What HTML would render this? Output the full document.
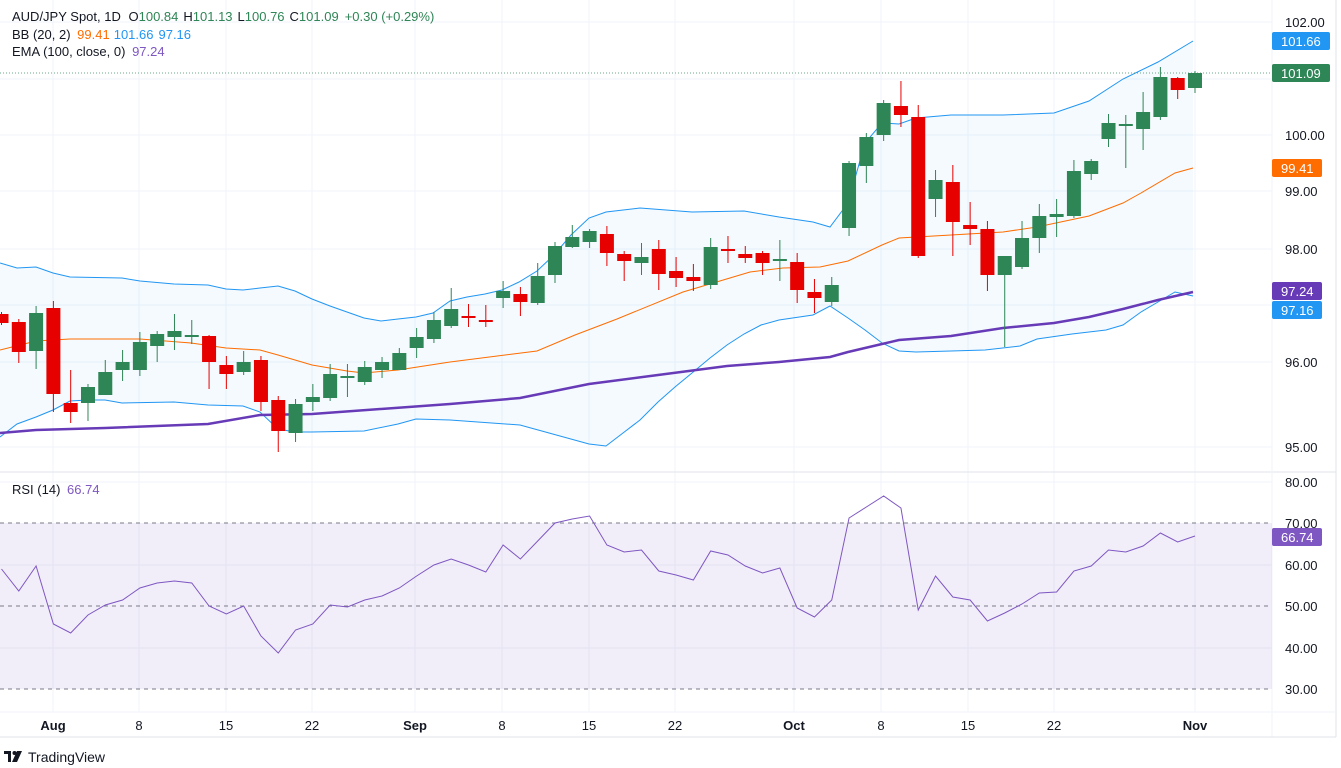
<!DOCTYPE html>
<html><head><meta charset="utf-8"><style>
html,body{margin:0;padding:0;background:#fff;width:1341px;height:768px;overflow:hidden;font-family:"Liberation Sans",sans-serif}
svg text{font-family:"Liberation Sans",sans-serif}
</style></head><body>
<svg id="s" width="1341" height="768" xmlns="http://www.w3.org/2000/svg"></svg>
<script>
const S=document.getElementById('s');let h='';
const X=k=>1.5+k*17.297;
const PR=1272;
// grid
const vx=[53,139,226,312,415,502,589,675,794,881,968,1054,1195];
vx.forEach(x=>{h+=`<line x1="${x}" y1="0" x2="${x}" y2="712" stroke="#f0f3fa" stroke-width="1"/>`});
[22,79,135,191,249,305,362,447].forEach(y=>{h+=`<line x1="0" y1="${y}" x2="${PR}" y2="${y}" stroke="#f0f3fa"/>`});
[482,565,648].forEach(y=>{h+=`<line x1="0" y1="${y}" x2="${PR}" y2="${y}" stroke="#f0f3fa"/>`});
// BB
const up=[[0,263],[17,268],[36,267],[53,273],[70,277],[122,278],[140,281],[174,284],[208,285],[226,289],[243,290],[260,288],[278,286],[295,291],[312,299],[330,306],[347,312],[364,318],[381,321],[398,319],[416,317],[433,313],[450,301],[467,297],[485,294],[502,290],[519,282],[537,271],[554,255],[571,235],[589,218],[606,212],[640,208],[692,212],[744,211],[779,217],[813,222],[830,227],[848,203],[865,143],[882,123],[899,124],[916,118],[951,115],[1003,115],[1054,113],[1089,101],[1123,79],[1158,62],[1193,41]];
const lo=[[0,437],[17,424],[36,417],[53,410],[70,401],[88,400],[105,400],[122,403],[174,402],[208,405],[243,406],[260,412],[278,429],[295,432],[312,432],[364,431],[398,424],[416,419],[450,420],[520,425],[589,444],[606,446],[623,433],[640,420],[658,402],[675,387],[692,373],[710,358],[727,345],[744,334],[761,325],[779,320],[813,315],[830,306],[848,318],[865,330],[882,343],[899,351],[916,352],[951,351],[985,350],[1020,346],[1037,339],[1072,334],[1106,330],[1123,325],[1141,312],[1175,292],[1193,296]];
const mid=[[0,350],[36,341],[70,339],[140,339],[191,343],[226,348],[260,350],[278,355],[312,365],[347,371],[364,373],[398,370],[450,362],[537,351],[575,335],[617,319],[683,292],[750,272],[783,268],[820,267],[848,261],[882,245],[899,238],[951,235],[1003,232],[1037,227],[1089,216],[1123,203],[1141,193],[1175,173],[1193,168]];
const ema=[[0,433],[36,430],[105,428],[208,424],[260,415],[312,414],[450,404],[520,398],[589,384],[658,375],[727,366],[779,362],[830,357],[848,352],[882,344],[899,340],[951,336],[1003,328],[1054,323],[1089,317],[1123,309],[1158,300],[1193,292]];
const pts=a=>a.map(p=>p.join(',')).join(' ');
h+=`<polygon points="${pts(up)} ${pts(lo.slice().reverse())}" fill="#2196f3" fill-opacity="0.05"/>`;
h+=`<polyline points="${pts(up)}" fill="none" stroke="#2196f3" stroke-width="1"/>`;
h+=`<polyline points="${pts(lo)}" fill="none" stroke="#2196f3" stroke-width="1"/>`;
h+=`<polyline points="${pts(mid)}" fill="none" stroke="#ff6d00" stroke-width="1"/>`;
h+=`<polyline points="${pts(ema)}" fill="none" stroke="#673ab7" stroke-width="2.5"/>`;
// candles [o,c,hi,lo] in y px
const C=[[314,323,312,325],[322,352,319,363],[351,313,306,369],[308,394,301,412],[403,412,370,423],[403,387,384,421],[395,372,360,395],[370,362,350,381],[370,342,332,376],[346,334,331,362],[337,331,314,350],[337,335,320,344],[336,362,335,389],[365,374,356,389],[372,362,351,375],[360,402,356,411],[400,431,396,452],[433,404,399,442],[402,397,384,411],[398,374,364,401],[377,376,364,397],[382,367,361,385],[370,362,357,378],[370,353,348,370],[348,337,328,358],[339,320,312,343],[326,309,288,328],[316,318,304,327],[320,322,305,327],[298,291,281,308],[294,302,287,316],[303,276,263,305],[275,246,242,283],[247,237,225,248],[242,231,229,248],[234,253,226,266],[254,261,251,281],[263,257,243,275],[249,274,240,290],[271,278,257,287],[277,281,264,291],[285,247,238,289],[249,251,236,263],[254,258,246,263],[253,263,251,275],[261,259,240,281],[262,290,253,303],[292,298,279,313],[302,285,277,306],[228,163,161,236],[166,137,133,183],[135,103,100,141],[106,115,81,127],[117,256,105,258],[199,180,170,217],[182,222,165,256],[225,229,202,245],[229,275,221,291],[275,256,256,347],[267,238,221,269],[238,216,204,253],[217,214,199,237],[216,171,160,218],[174,161,159,180],[139,123,114,147],[126,124,115,168],[129,112,92,150],[117,77,67,120],[78,90,77,99],[88,73,71,93]];
C.forEach((c,k)=>{const x=X(k);const g=c[1]<=c[0];const col=g?'#2e8555':'#e60000';
const t=Math.min(c[0],c[1]),b=Math.max(c[0],c[1]);
h+=`<line x1="${x}" y1="${c[2]}" x2="${x}" y2="${c[3]}" stroke="${col}" stroke-width="1"/>`;
h+=`<rect x="${x-7}" y="${t}" width="14" height="${Math.max(b-t,2)}" fill="${col}"/>`;});
// last price dotted
h+=`<line x1="0" y1="73" x2="${PR}" y2="73" stroke="#2e8555" stroke-dasharray="1,2" stroke-width="1" opacity="0.7"/>`;
// separators
h+=`<line x1="0" y1="472" x2="1336" y2="472" stroke="#e0e3eb"/>`;
h+=`<line x1="${PR}" y1="0" x2="${PR}" y2="737" stroke="#f0f3fa"/>`;
h+=`<line x1="1336" y1="0" x2="1336" y2="737" stroke="#e0e3eb"/>`;
h+=`<line x1="0" y1="737" x2="1336" y2="737" stroke="#e0e3eb"/>`;
h+=`<line x1="0" y1="712" x2="1336" y2="712" stroke="#f0f3fa"/>`;
// RSI
h+=`<rect x="0" y="523" width="${PR}" height="166" fill="#7e57c2" fill-opacity="0.1"/>`;
[523,606,689].forEach(y=>{h+=`<line x1="0" y1="${y}" x2="${PR}" y2="${y}" stroke="#787b86" stroke-dasharray="4,4" stroke-width="1"/>`});
const R=[569,591,566,624,633,615,605,600,588,583,581,583,606,614,606,636,653,630,624,605,607,600,596,588,576,565,559,565,572,545,559,541,523,519,516,545,552,550,571,575,580,551,555,566,573,568,608,617,600,518,507,496,508,610,576,597,600,621,613,604,593,592,571,566,550,552,546,533,542,536];
h+=`<polyline points="${R.map((y,k)=>X(k)+','+y).join(' ')}" fill="none" stroke="#7e57c2" stroke-width="1"/>`;
// axis labels
const ax=(y,t)=>{h+=`<text x="1285" y="${y+5}" font-size="13" fill="#131722">${t}</text>`};
ax(22,'102.00');ax(135,'100.00');ax(191,'99.00');ax(249,'98.00');ax(362,'96.00');ax(447,'95.00');
ax(482,'80.00');ax(523,'70.00');ax(565,'60.00');ax(606,'50.00');ax(648,'40.00');ax(689,'30.00');
const tag=(y,t,c,w)=>{h+=`<rect x="1272" y="${y-9}" width="${w}" height="18" rx="2" fill="${c}"/><text x="1281" y="${y+5}" font-size="13" fill="#fff">${t}</text>`};
tag(41,'101.66','#2196f3',58);tag(73,'101.09','#2e8555',58);tag(168,'99.41','#ff6d00',50);tag(291,'97.24','#673ab7',50);tag(310,'97.16','#2196f3',50);tag(537,'66.74','#7e57c2',50);
const dl=[[53,'Aug',1],[139,'8'],[226,'15'],[312,'22'],[415,'Sep',1],[502,'8'],[589,'15'],[675,'22'],[794,'Oct',1],[881,'8'],[968,'15'],[1054,'22'],[1195,'Nov',1]];
dl.forEach(d=>{h+=`<text x="${d[0]}" y="730" font-size="13" text-anchor="middle" fill="#131722" ${d[2]?'font-weight="bold"':''}>${d[1]}</text>`});
// legend
h+=`<text x="12" y="21" font-size="13" fill="#131722">AUD/JPY Spot, 1D <tspan dx="4">O</tspan><tspan fill="#2e8555">100.84</tspan><tspan dx="5">H</tspan><tspan fill="#2e8555">101.13</tspan><tspan dx="5">L</tspan><tspan fill="#2e8555">100.76</tspan><tspan dx="5">C</tspan><tspan fill="#2e8555">101.09</tspan><tspan dx="6" fill="#2e8555">+0.30 (+0.29%)</tspan></text>`;
h+=`<text x="12" y="39" font-size="13" fill="#131722">BB (20, 2) <tspan dx="3" fill="#ff6d00">99.41</tspan><tspan dx="5" fill="#2196f3">101.66</tspan><tspan dx="5" fill="#2196f3">97.16</tspan></text>`;
h+=`<text x="12" y="56" font-size="13" fill="#131722">EMA (100, close, 0) <tspan dx="3" fill="#7e57c2">97.24</tspan></text>`;
h+=`<text x="12" y="494" font-size="13" fill="#131722">RSI (14) <tspan dx="3" fill="#7e57c2">66.74</tspan></text>`;
// logo
h+=`<rect x="4" y="751" width="7" height="3" fill="#131722"/><rect x="8" y="751" width="3" height="11" fill="#131722"/><circle cx="14.5" cy="753" r="2" fill="#131722"/><polygon points="17,751 22,751 17,762 12,762" fill="#131722"/>`;
h+=`<text x="28" y="762" font-size="14" fill="#131722">TradingView</text>`;
S.innerHTML=h;
</script>
</body></html>
